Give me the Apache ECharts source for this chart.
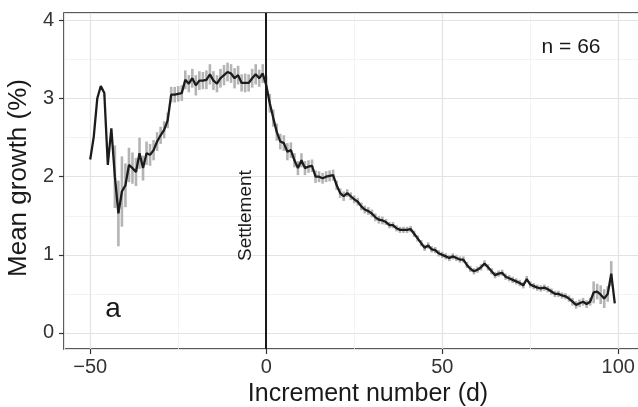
<!DOCTYPE html>
<html>
<head>
<meta charset="utf-8">
<script src="https://cdn.jsdelivr.net/npm/echarts@6/dist/echarts.min.js"></script>
<style>
  html, body { margin: 0; padding: 0; background: #fff; }
  #growth { width: 638px; height: 407px; }
</style>
</head>
<body>
<div id="growth"></div>
<script>
  // increment number (d), relative to settlement
  const increments = [
    -50, -49, -48, -47, -46, -45, -44, -43, -42, -41, -40, -39, -38, -37, -36, -35, -34, -33, -32, -31,
    -30, -29, -28, -27, -26, -25, -24, -23, -22, -21, -20, -19, -18, -17, -16, -15, -14, -13, -12, -11,
    -10, -9, -8, -7, -6, -5, -4, -3, -2, -1, 0, 1, 2, 3, 4, 5, 6, 7, 8, 9,
    10, 11, 12, 13, 14, 15, 16, 17, 18, 19, 20, 21, 22, 23, 24, 25, 26, 27, 28, 29,
    30, 31, 32, 33, 34, 35, 36, 37, 38, 39, 40, 41, 42, 43, 44, 45, 46, 47, 48, 49,
    50, 51, 52, 53, 54, 55, 56, 57, 58, 59, 60, 61, 62, 63, 64, 65, 66, 67, 68, 69,
    70, 71, 72, 73, 74, 75, 76, 77, 78, 79, 80, 81, 82, 83, 84, 85, 86, 87, 88, 89,
    90, 91, 92, 93, 94, 95, 96, 97, 98, 99
  ];

  // mean growth (%)
  const meanGrowth = [
    2.22, 2.51, 3.00, 3.16, 3.07, 2.15, 2.62, 2.00, 1.53, 1.81, 1.89, 2.15, 2.11, 2.06, 2.30, 2.11, 2.30, 2.28, 2.34, 2.45,
    2.53, 2.60, 2.72, 3.05, 3.05, 3.06, 3.07, 3.24, 3.19, 3.26, 3.17, 3.23, 3.23, 3.24, 3.31, 3.23, 3.19, 3.26, 3.30, 3.34,
    3.32, 3.26, 3.30, 3.20, 3.20, 3.20, 3.26, 3.31, 3.26, 3.32, 3.17, 2.94, 2.75, 2.57, 2.45, 2.43, 2.32, 2.34, 2.21, 2.11,
    2.21, 2.11, 2.13, 2.14, 2.00, 2.00, 1.98, 2.00, 2.01, 2.02, 1.89, 1.79, 1.75, 1.79, 1.75, 1.71, 1.68, 1.62, 1.58, 1.56,
    1.53, 1.48, 1.45, 1.44, 1.42, 1.38, 1.38, 1.34, 1.32, 1.32, 1.32, 1.33, 1.27, 1.21, 1.15, 1.09, 1.12, 1.07, 1.06, 1.02,
    1.00, 0.98, 0.96, 0.98, 0.96, 0.94, 0.94, 0.87, 0.82, 0.79, 0.81, 0.84, 0.89, 0.84, 0.79, 0.74, 0.76, 0.77, 0.72, 0.70,
    0.68, 0.66, 0.64, 0.61, 0.69, 0.62, 0.60, 0.58, 0.57, 0.58, 0.56, 0.53, 0.50, 0.50, 0.48, 0.47, 0.44, 0.40, 0.36, 0.38,
    0.40, 0.37, 0.40, 0.52, 0.53, 0.49, 0.44, 0.50, 0.76, 0.38
  ];

  // half length of the grey error bars (0 = no bar)
  const errHalf = [
    0, 0, 0, 0, 0, 0, 0, 0.40, 0.42, 0.45, 0.28, 0.22, 0.20, 0.18, 0.20, 0.16, 0.15, 0.14, 0.13, 0.12,
    0.11, 0.11, 0.10, 0.10, 0.10, 0.10, 0.10, 0.12, 0.11, 0.12, 0.13, 0.12, 0.11, 0.12, 0.13, 0.12, 0.11, 0.12, 0.13, 0.12,
    0.12, 0.13, 0.12, 0.11, 0.12, 0.11, 0.12, 0.13, 0.11, 0.12, 0.12, 0.12, 0.11, 0.11, 0.10, 0.10, 0.11, 0.10, 0.09, 0.09,
    0.09, 0.09, 0.08, 0.08, 0.08, 0.07, 0.07, 0.07, 0.07, 0.07, 0.06, 0.06, 0.06, 0.05, 0.05, 0.05, 0.05, 0.05, 0.05, 0.05,
    0.05, 0.05, 0.05, 0.05, 0.04, 0.04, 0.04, 0.04, 0.04, 0.04, 0.04, 0.04, 0.04, 0.04, 0.04, 0.04, 0.04, 0.04, 0.04, 0.04,
    0.04, 0.04, 0.04, 0.04, 0.04, 0.04, 0.04, 0.04, 0.04, 0.04, 0.04, 0.04, 0.04, 0.04, 0.04, 0.04, 0.04, 0.04, 0.04, 0.04,
    0.04, 0.04, 0.04, 0.04, 0.04, 0.04, 0.04, 0.04, 0.04, 0.04, 0.04, 0.04, 0.04, 0.04, 0.04, 0.04, 0.04, 0.05, 0.05, 0.05,
    0.05, 0.05, 0.05, 0.14, 0.10, 0.12, 0.12, 0.10, 0.16, 0
  ];

  const settlementAt = 0;
  const sampleNote = 'n = 66';
  const panelTag = 'a';

  const font = '"Liberation Sans", Arial, Helvetica, sans-serif';

  let lineData = increments.map((x, i) => [x, meanGrowth[i]]);
  let barData = [];
  increments.forEach((x, i) => {
    if (errHalf[i] > 0) barData.push([x, meanGrowth[i] - errHalf[i], meanGrowth[i] + errHalf[i]]);
  });

  let myChart = echarts.init(document.getElementById('growth'));
  myChart.setOption({
    animation: false,
    backgroundColor: '#fff',
    textStyle: { fontFamily: font },
    grid: {
      left: 64,
      top: 13,
      width: 577,
      height: 336,
      outerBoundsMode: 'none',
      containLabel: false,
      show: true,
      backgroundColor: 'transparent',
      borderColor: '#222',
      borderWidth: 1.6
    },
    xAxis: {
      type: 'value',
      min: -57.45,
      max: 106.45,
      splitNumber: 3,
      name: 'Increment number (d)',
      nameLocation: 'middle',
      nameGap: 24,
      nameTextStyle: { fontSize: 25, color: '#1a1a1a', fontFamily: font, padding: [0, 0, 0, 31] },
      axisLine: { show: false, onZero: false },
      axisTick: { show: true, length: 5, lineStyle: { color: '#333', width: 1.2 } },
      axisLabel: {
        fontSize: 20, color: '#333', margin: 8, fontFamily: font,
        showMinLabel: false, showMaxLabel: false,
        formatter: v => (v < 0 ? '\u2212' + Math.abs(v) : String(v))
      },
      splitLine: { show: true, lineStyle: { color: '#e3e3e3', width: 1.2 } },
      minorTick: { show: false, splitNumber: 2 },
      minorSplitLine: { show: true, lineStyle: { color: '#f0f0f0', width: 0.8 } }
    },
    yAxis: {
      type: 'value',
      min: -0.205,
      max: 4.095,
      splitNumber: 4,
      name: 'Mean growth (%)',
      nameLocation: 'middle',
      nameGap: 30,
      nameTextStyle: { fontSize: 26, color: '#1a1a1a', fontFamily: font, padding: [0, 0, 0, 6] },
      axisLine: { show: false, onZero: false },
      axisTick: { show: true, length: 5, lineStyle: { color: '#333', width: 1.2 } },
      axisLabel: {
        fontSize: 20, color: '#333', margin: 10, fontFamily: font,
        showMinLabel: false, showMaxLabel: false
      },
      splitLine: { show: true, lineStyle: { color: '#e3e3e3', width: 1.2 } },
      minorTick: { show: false, splitNumber: 2 },
      minorSplitLine: { show: true, lineStyle: { color: '#f0f0f0', width: 0.8 } }
    },
    graphic: [
      {
        type: 'text', x: 571, y: 47, z: 100,
        style: { text: sampleNote, font: '21px ' + font, fill: '#1a1a1a', textAlign: 'center', textVerticalAlign: 'middle' }
      },
      {
        type: 'text', x: 113, y: 309, z: 100,
        style: { text: panelTag, font: '28px ' + font, fill: '#1a1a1a', textAlign: 'center', textVerticalAlign: 'middle' }
      }
    ],
    series: [
      {
        name: 'error',
        type: 'custom',
        data: barData,
        encode: { x: 0, y: [1, 2] },
        z: 2,
        silent: true,
        renderItem: function (params, api) {
          let p1 = api.coord([api.value(0), api.value(1)]);
          let p2 = api.coord([api.value(0), api.value(2)]);
          return {
            type: 'line',
            shape: { x1: p1[0], y1: p1[1], x2: p2[0], y2: p2[1] },
            style: { stroke: '#b4b4b4', lineWidth: 2.6 }
          };
        }
      },
      {
        name: 'mean',
        type: 'line',
        data: lineData,
        showSymbol: false,
        symbol: 'none',
        z: 3,
        lineStyle: { color: '#1c1c1c', width: 2.3 },
        markLine: {
          silent: true,
          symbol: 'none',
          lineStyle: { color: '#1a1a1a', width: 2, type: 'solid' },
          label: {
            show: true,
            formatter: 'Settlement',
            position: 'insideStartTop',
            distance: [88, 11],
            fontSize: 19,
            color: '#1a1a1a',
            fontFamily: font
          },
          data: [{ xAxis: settlementAt }]
        }
      }
    ]
  });

  window.addEventListener('resize', () => {
    myChart.resize();
  });
</script>
</body>
</html>
